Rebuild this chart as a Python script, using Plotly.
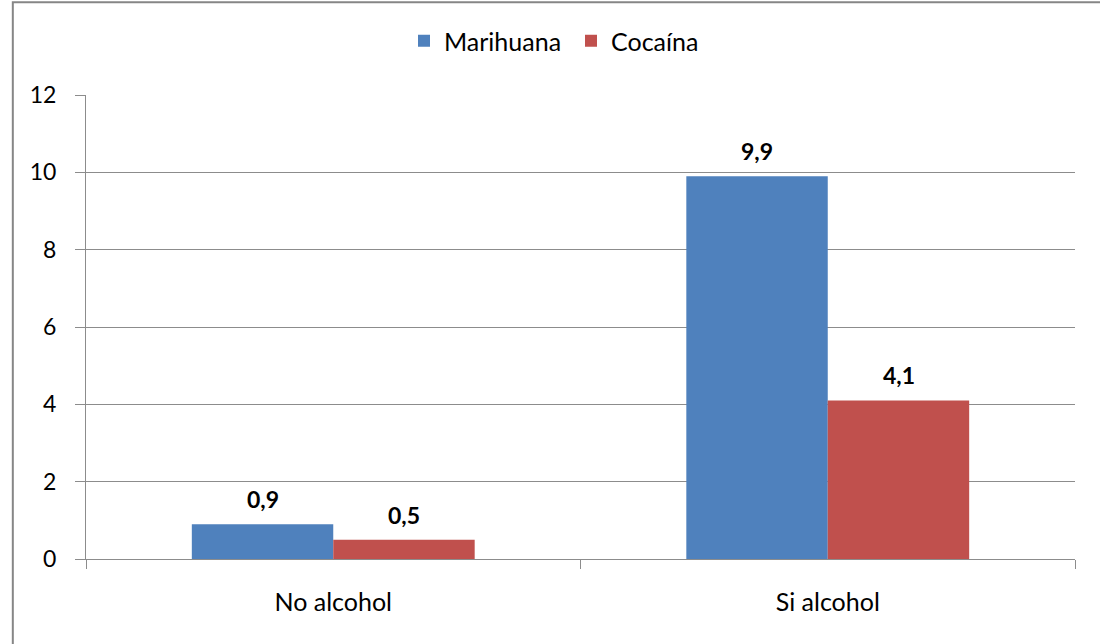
import plotly.graph_objects as go

categories = ["No alcohol", "Si alcohol"]
marihuana = [0.9, 9.9]
cocaina = [0.5, 4.1]
y_ticks = [0, 2, 4, 6, 8, 10, 12]

FONT = "Lato"
FS = 23
FS_TXT = 25
BLUE = "#4F81BD"
RED = "#C0504D"
GRID = "#8C8C8C"

fig = go.Figure()
fig.add_trace(go.Bar(name="Marihuana", x=categories, y=marihuana, marker=dict(color=BLUE, line=dict(width=0))))
fig.add_trace(go.Bar(name="Cocaína", x=categories, y=cocaina, marker=dict(color=RED, line=dict(width=0))))

annotations = []
for series, shift in ((marihuana, -70.75), (cocaina, 70.75)):
    for c, v in zip(categories, series):
        annotations.append(dict(
            x=c, y=v, xref="x", yref="y", text=f"{v:.1f}".replace(".", ","),
            showarrow=False, xshift=shift, yshift=9, yanchor="bottom",
            font=dict(family=FONT, size=FS, color="#000000", weight="bold")
        ))

fig.update_layout(
    width=1100, height=644,
    margin=dict(l=86, r=25, t=95, b=85),
    paper_bgcolor="white", plot_bgcolor="white",
    barmode="group", bargap=0.428, bargroupgap=0,
    separators=",.",
    font=dict(family=FONT, size=FS, color="#000000"),
    legend=dict(orientation="h", x=404 / 1100, xanchor="left", xref="container",
                y=1 - 41 / 644, yref="container", yanchor="middle",
                font=dict(family=FONT, size=FS_TXT, color="#000000"),
                entrywidth=122, tracegroupgap=0),
    annotations=annotations,
    xaxis=dict(type="category", tickson="boundaries", ticks="outside", ticklen=9,
               tickcolor=GRID, showline=True, linecolor=GRID, linewidth=1,
               showgrid=False, tickfont=dict(family=FONT, size=FS_TXT), ticklabelstandoff=21),
    yaxis=dict(range=[0, 12], tickvals=y_ticks, ticks="outside", ticklen=10,
               tickcolor=GRID, showline=True, linecolor=GRID, linewidth=1,
               showgrid=True, gridcolor=GRID, gridwidth=1, zeroline=False,
               tickfont=dict(family=FONT, size=FS), ticklabelstandoff=14),
    shapes=[dict(type="rect", xref="paper", yref="paper", x0=-0.074, x1=1.1, y0=-0.3, y1=1.2,
                 line=dict(color="#868686", width=2), fillcolor="rgba(0,0,0,0)", layer="above")],
)
fig.write_html("out.html")
